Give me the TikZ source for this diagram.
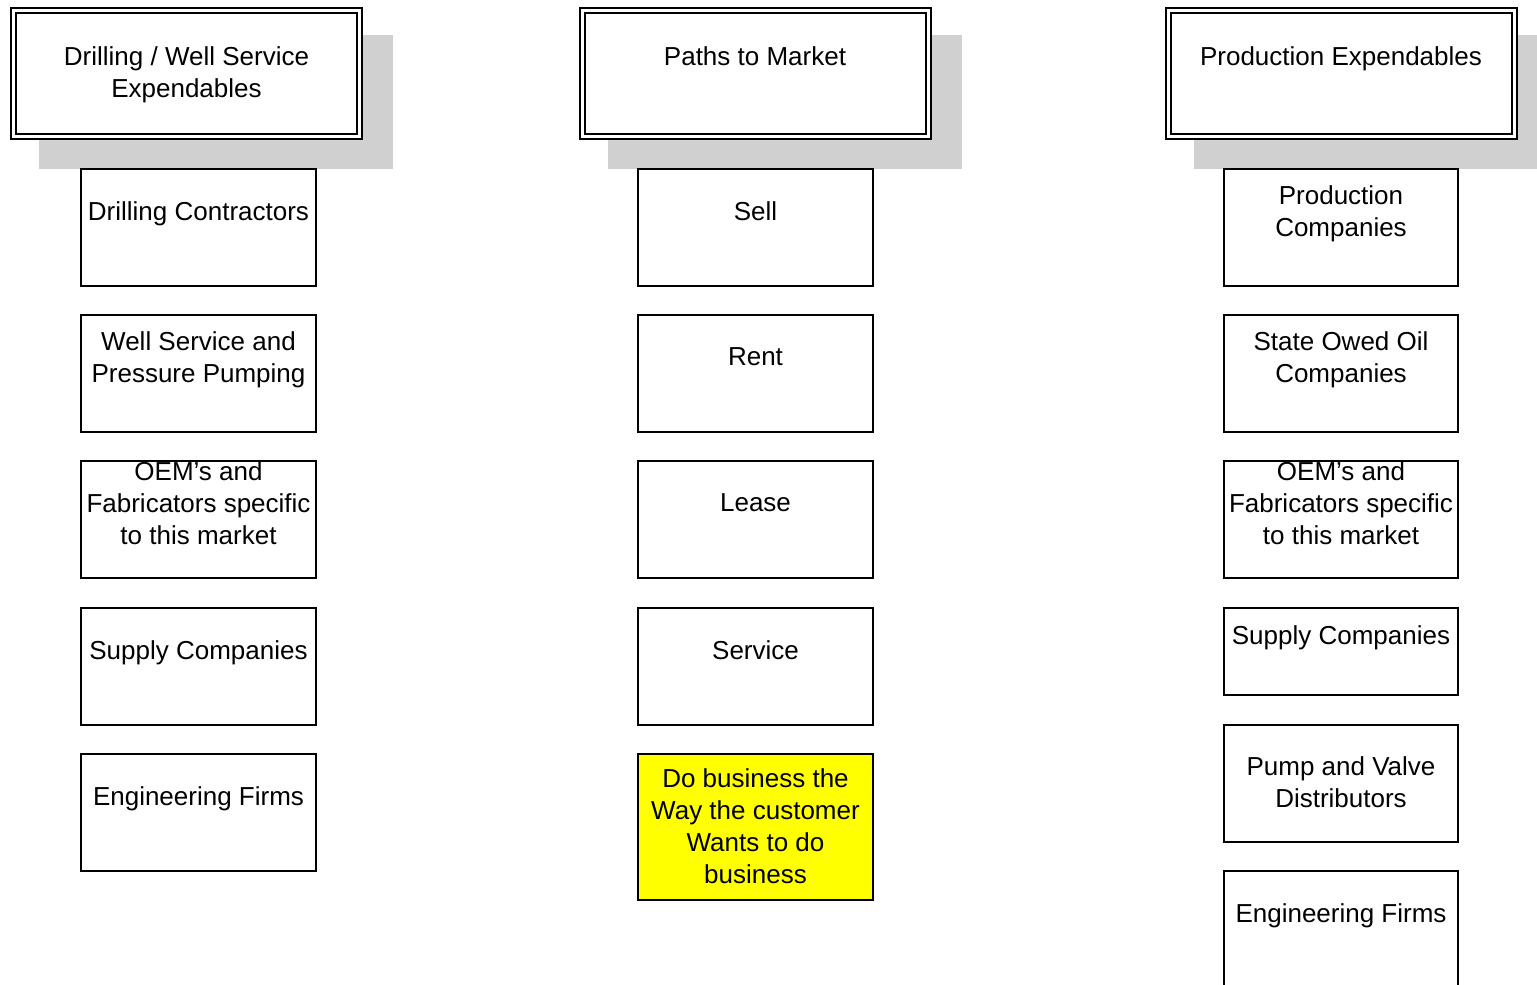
\documentclass[tikz,border=0pt]{standalone}
\usepackage{fontspec}
\setmainfont{Liberation Sans}
\definecolor{shadowgray}{RGB}{208,208,208}
\definecolor{boxyellow}{RGB}{255,255,0}
\tikzset{
  shadowbox/.style={fill=shadowgray, draw=none},
  hdrbox/.style={draw=black, line width=2pt, double=white, double distance=3pt, fill=white, anchor=north west, inner sep=0pt, outer sep=0pt},
  itembox/.style={draw=black, line width=2pt, fill=white, anchor=north west, inner sep=0pt, outer sep=0pt, minimum width=235pt, minimum height=117pt},
  txt/.style={align=center, inner sep=0pt, text depth=0pt, font=\fontsize{26}{32}\selectfont}
}
\begin{document}
\begin{tikzpicture}[x=1pt,y=-1pt]
\useasboundingbox (0,0) rectangle (1537,985);
\clip (0,0) rectangle (1537,985);
% shadows
\fill[shadowbox] (39,35) rectangle (393,169);
\fill[shadowbox] (608,35) rectangle (962,169);
\fill[shadowbox] (1194,35) rectangle (1548,169);
% headers
\node[hdrbox, minimum width=346pt, minimum height=125.5pt] (hL) at (13.5,10.5) {};
\node[hdrbox, minimum width=346pt, minimum height=125.5pt] (hM) at (582.5,10.5) {};
\node[hdrbox, minimum width=346pt, minimum height=125.5pt] (hR) at (1168.5,10.5) {};
\node[txt] (hLt) at (186.5,72) {Drilling / Well Service\\Expendables};
\node[txt] (hMt) at (755,56) {Paths to Market};
\node[txt] (hRt) at (1341,56) {Production Expendables};
% left column
\node[itembox] (l1) at (81,169) {};
\node[itembox] (l2) at (81,315) {};
\node[itembox] (l3) at (81,461) {};
\node[itembox] (l4) at (81,608) {};
\node[itembox] (l5) at (81,754) {};
\node[txt] (l1t) at (198.5,211) {Drilling Contractors};
\node[txt] (l2t) at (198.5,357) {Well Service and\\Pressure Pumping};
\node[txt] (l3t) at (198.5,503) {OEM’s and\\Fabricators specific\\to this market};
\node[txt] (l4t) at (198.5,650) {Supply Companies};
\node[txt] (l5t) at (198.5,796) {Engineering Firms};
% middle column
\node[itembox] (m1) at (638,169) {};
\node[itembox] (m2) at (638,315) {};
\node[itembox] (m3) at (638,461) {};
\node[itembox] (m4) at (638,608) {};
\node[itembox, fill=boxyellow, minimum height=146pt] (m5) at (638,754) {};
\node[txt] (m1t) at (755.5,211) {Sell};
\node[txt] (m2t) at (755.5,357) {Rent};
\node[txt] (m3t) at (755.5,503) {Lease};
\node[txt] (m4t) at (755.5,650) {Service};
\node[txt] (m5t) at (755.5,826) {Do business the\\Way the customer\\Wants to do\\business};
% right column
\node[itembox, minimum width=234pt] (r1) at (1224,169) {};
\node[itembox, minimum width=234pt] (r2) at (1224,315) {};
\node[itembox, minimum width=234pt] (r3) at (1224,461) {};
\node[itembox, minimum width=234pt, minimum height=87pt] (r4) at (1224,608) {};
\node[itembox, minimum width=234pt] (r5) at (1224,725) {};
\node[itembox, minimum width=234pt] (r6) at (1224,871) {};
\node[txt] (r1t) at (1341,211) {Production\\Companies};
\node[txt] (r2t) at (1341,357) {State Owed Oil\\Companies};
\node[txt] (r3t) at (1341,503) {OEM’s and\\Fabricators specific\\to this market};
\node[txt] (r4t) at (1341,635) {Supply Companies};
\node[txt] (r5t) at (1341,782.5) {Pump and Valve\\Distributors};
\node[txt] (r6t) at (1341,913) {Engineering Firms};
\end{tikzpicture}
\end{document}
